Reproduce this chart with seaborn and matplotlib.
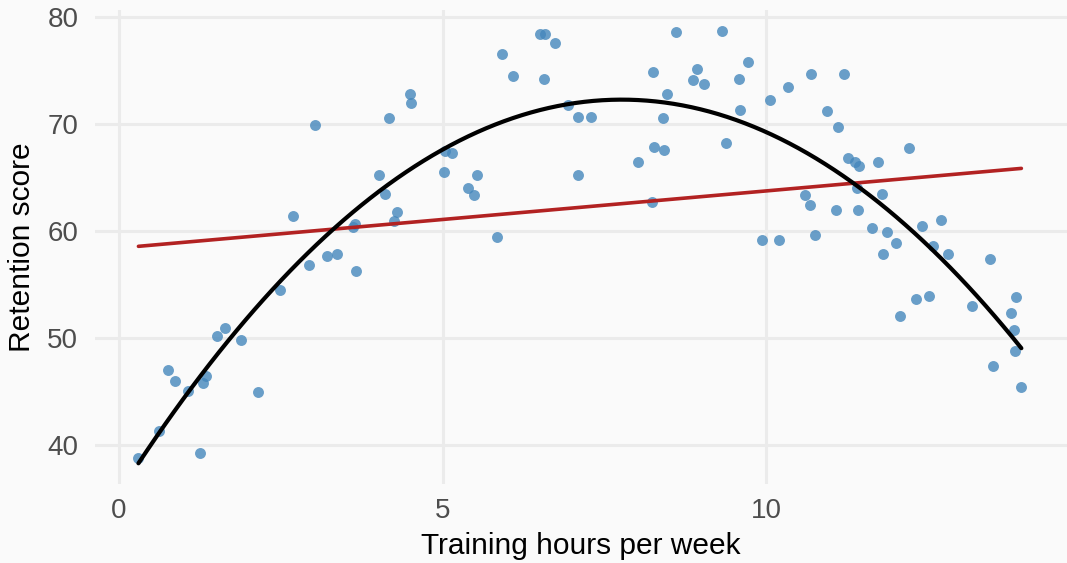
import numpy as np
import pandas as pd
import matplotlib
matplotlib.use("Agg")
import matplotlib.pyplot as plt
import seaborn as sns

# ---- data ----
hours = [0.30, 0.61, 0.76, 0.87, 1.07, 1.25, 1.29, 1.34, 1.51, 1.64,
         1.88, 2.14, 2.48, 2.69, 2.94, 3.02, 3.21, 3.36, 3.61, 3.64,
         3.66, 4.02, 4.11, 4.17, 4.25, 4.30, 4.50, 4.51, 5.02, 5.04,
         5.14, 5.39, 5.48, 5.53, 5.84, 5.91, 6.09, 6.50, 6.58, 6.56,
         6.74, 6.94, 7.09, 7.29, 7.09, 8.01, 8.24, 8.25, 8.26, 8.40,
         8.42, 8.47, 8.61, 8.86, 8.93, 9.04, 9.32, 9.38, 9.58, 9.59,
         9.72, 9.94, 10.06, 10.19, 10.34, 10.59, 10.68, 10.69, 10.75, 10.93,
         11.08, 11.10, 11.20, 11.26, 11.37, 11.40, 11.41, 11.43, 11.63, 11.72,
         11.79, 11.80, 11.87, 12.00, 12.07, 12.21, 12.31, 12.41, 12.52, 12.57,
         12.70, 12.80, 13.17, 13.45, 13.50, 13.78, 13.82, 13.84, 13.85, 13.94]
score = [38.75, 41.3, 47.0, 46.0, 45.05, 39.2, 45.8, 46.4, 50.2, 50.9,
         49.8, 44.95, 54.5, 61.4, 56.8, 69.9, 57.7, 57.9, 60.4, 60.7,
         56.3, 65.2, 63.5, 70.55, 60.9, 61.8, 72.8, 72.0, 65.5, 67.5,
         67.3, 64.0, 63.4, 65.2, 59.4, 76.6, 74.5, 78.4, 78.4, 74.2,
         77.6, 71.8, 70.7, 70.7, 65.2, 66.5, 62.7, 74.9, 67.9, 70.6,
         67.6, 72.8, 78.6, 74.1, 75.2, 73.8, 78.7, 68.2, 74.2, 71.3,
         75.8, 59.2, 72.3, 59.2, 73.5, 63.35, 62.4, 74.7, 59.6, 71.2,
         62.0, 69.7, 74.7, 66.8, 66.5, 64.0, 61.95, 66.1, 60.3, 66.5,
         63.5, 57.9, 59.9, 58.9, 52.05, 67.8, 53.65, 60.5, 53.95, 58.6,
         61.0, 57.9, 53.0, 57.4, 47.4, 52.3, 50.7, 48.8, 53.8, 45.45]
x_ticks = [0, 5, 10]
y_ticks = [40, 50, 60, 70, 80]
x_label = "Training hours per week"
y_label = "Retention score"

df = pd.DataFrame({"hours": hours, "score": score})

sns.set_theme(style="whitegrid")
plt.rcParams["font.family"] = ["Liberation Sans", "DejaVu Sans"]

bg = "#fafafa"
fig = plt.figure(figsize=(10.67, 5.63), dpi=100, facecolor=bg)
ax = fig.add_axes([95 / 1067, 79 / 563, 972 / 1067, 474 / 563])
ax.set_facecolor(bg)

sns.scatterplot(data=df, x="hours", y="score", ax=ax, color="#4587bc",
                alpha=0.8, s=62, linewidth=0, zorder=3)
sns.regplot(data=df, x="hours", y="score", ax=ax, scatter=False, ci=None,
            order=1, color="#b22222", line_kws={"linewidth": 2.6, "zorder": 4})
sns.regplot(data=df, x="hours", y="score", ax=ax, scatter=False, ci=None,
            order=2, color="black", line_kws={"linewidth": 3.0, "zorder": 5})

ax.set_xlim(-0.371, 14.645)
ax.set_ylim(36.34, 80.68)
ax.set_xticks(x_ticks)
ax.set_yticks(y_ticks)
ax.grid(True, color="#ebebeb", linewidth=2.2)
ax.set_axisbelow(True)
for s in ax.spines.values():
    s.set_visible(False)
ax.tick_params(axis="both", length=0, labelsize=20, labelcolor="#4d4d4d")
ax.tick_params(axis="x", pad=10)
ax.tick_params(axis="y", pad=12)
ax.set_xlabel(x_label, fontsize=21.5, color="black", labelpad=6)
ax.set_ylabel(y_label, fontsize=21.5, color="black", labelpad=8)

fig.savefig("out.png", dpi=100, facecolor=bg)
